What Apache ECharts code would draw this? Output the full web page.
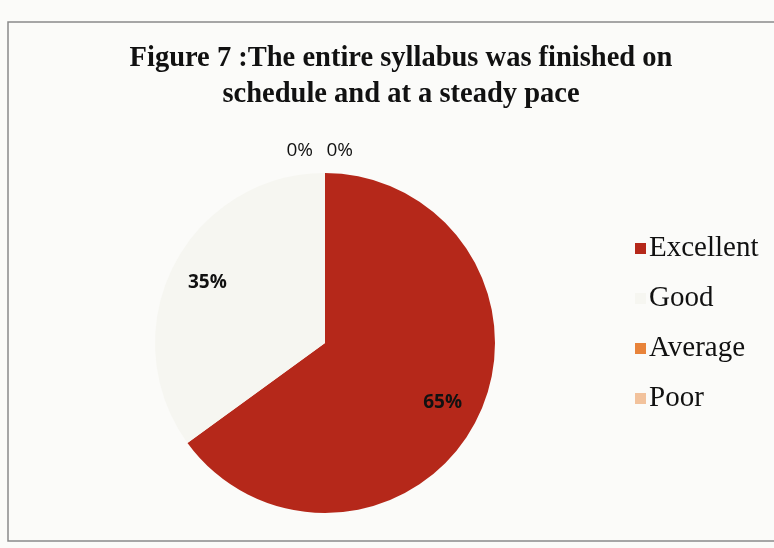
<!DOCTYPE html>
<html>
<head>
<meta charset="utf-8">
<script src="https://cdn.jsdelivr.net/npm/echarts@6/dist/echarts.min.js"></script>
<style>
  html, body { margin: 0; padding: 0; background: #fbfbf9; }
  #chart { width: 774px; height: 548px; }
</style>
</head>
<body>
<div id="chart"></div>
<script>
// 数据
var categories = ['Excellent', 'Good', 'Average', 'Poor'];
var values = [65, 35, 0, 0];
var colors = ['#b5281a', '#f6f6f1', '#e8833a', '#f2c29c'];

var cx = 325, cy = 343;

var chart = echarts.init(document.getElementById('chart'));

var data = categories.map(function (name, i) {
  var item = { name: name, value: values[i], itemStyle: { color: colors[i] } };
  if (values[i] > 0) {
    item.label = { position: 'inside', fontWeight: 'bold' };
  } else {
    item.label = { position: 'outside' };
  }
  return item;
});

chart.setOption({
  backgroundColor: '#fbfbf9',
  title: {
    text: 'Figure 7 :The entire syllabus was finished on\nschedule and at a steady pace',
    left: 396,
    top: 36,
    textAlign: 'center',
    textStyle: {
      fontFamily: 'Liberation Serif',
      fontWeight: 'bold',
      fontSize: 28.5,
      lineHeight: 36,
      color: '#111'
    }
  },
  legend: {
    orient: 'vertical',
    left: 630,
    top: 229,
    itemWidth: 11,
    itemHeight: 11,
    itemGap: 21,
    icon: 'rect',
    data: categories,
    textStyle: {
      fontFamily: 'Liberation Serif',
      fontSize: 29,
      color: '#111',
      padding: [0, 0, 0, -2]
    }
  },
  graphic: [{
    type: 'rect',
    shape: { x: 8, y: 22, width: 800, height: 519 },
    style: { fill: 'none', stroke: '#8a8a8a', lineWidth: 1.5 },
    silent: true
  }],
  series: [{
    type: 'pie',
    center: [cx, cy],
    radius: 170,
    startAngle: 90,
    clockwise: true,
    stillShowZeroSum: true,
    avoidLabelOverlap: false,
    percentPrecision: 0,
    label: {
      formatter: '{d}%',
      fontFamily: 'Open Sans',
      fontSize: 19,
      color: '#111'
    },
    labelLine: { show: false, length: 6, length2: 0 },
    labelLayout: function (p) {
      var r = p.labelRect;
      var lx = r.x + r.width / 2, ly = r.y + r.height / 2;
      if (p.dataIndex < 2) {
        // 标签往外推一点
        return { dx: (lx - cx) * 0.5, dy: (ly - cy) * 0.5 };
      }
      return { dx: p.dataIndex === 2 ? -7 : 33, dy: -16 };
    },
    data: data
  }]
});
</script>
</body>
</html>
